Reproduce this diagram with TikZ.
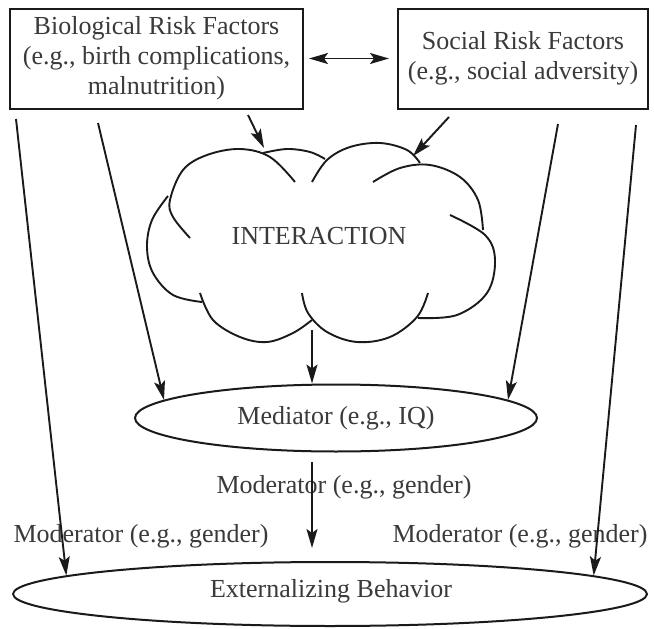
\documentclass[tikz,border=0pt]{standalone}
\usepackage{fontspec}
\setmainfont{Liberation Serif}
\usetikzlibrary{shapes.geometric,arrows.meta}
\definecolor{txt}{HTML}{3A3A3A}
\definecolor{ln}{HTML}{1A1A1A}
\begin{document}
\begin{tikzpicture}[x=1pt,y=-1pt,
  lbl/.style={text=txt, font=\fontsize{26}{30}\selectfont, inner sep=0pt, align=center},
  boxnode/.style={lbl, draw=ln, line width=2pt, rectangle},
  ellnode/.style={lbl, draw=ln, line width=2pt, ellipse},
  arr/.style={draw=ln, line width=1.9pt, -{Stealth[length=19pt,width=11pt,inset=4pt]}},
  dbl/.style={draw=ln, line width=1.9pt, {Stealth[length=19pt,width=11pt,inset=4pt]}-{Stealth[length=19pt,width=11pt,inset=4pt]}},
  cl/.style={draw=ln, line width=1.9pt}]
\useasboundingbox (0,0) rectangle (654,629);
\fill[white] (0,0) rectangle (654,629);

% boxes
\node[boxnode, minimum width=293pt, minimum height=100pt] (bio) at (156.5,58.5)
  {Biological Risk Factors\\(e.g., birth complications,\\malnutrition)};
\node[boxnode, minimum width=250pt, minimum height=100pt] (soc) at (523,58.5)
  {Social Risk Factors\\(e.g., social adversity)};

% ellipses
\node[ellnode, minimum width=402pt, minimum height=67pt] (med) at (336,418) {Mediator (e.g., IQ)};
\node[ellnode, minimum width=634pt, minimum height=64pt] (ext) at (330,594) {};
\node[lbl] (extt) at (331,591) {Externalizing Behavior};

% cloud
\draw[cl] plot[smooth, tension=0.6] coordinates {(190,238) (173,217) (170,200) (183,170) (207,155) (240,149) (270,157) (295,182)};
\draw[cl] plot[smooth, tension=0.6] coordinates {(168,196) (152,220) (147,247) (153,273) (173,295) (202,302)};
\draw[cl] plot[smooth, tension=0.6] coordinates {(200,293) (213,320) (240,337) (267,342) (293,333) (312,320)};
\draw[cl] plot[smooth, tension=0.6] coordinates {(302,293) (308,313) (327,332) (357,342) (390,337) (417,317) (428,293)};
\draw[cl] plot[smooth, tension=0.6] coordinates {(418,318) (457,315) (487,293) (495,260) (485,235) (450,215)};
\draw[cl] plot[smooth, tension=0.6] coordinates {(373,182) (400,168) (430,165) (460,177) (478,200) (483,230)};
\draw[cl] plot[smooth, tension=0.6] coordinates {(312,182) (327,160) (350,147) (380,143) (407,150) (420,163)};
\draw[cl] plot[smooth, tension=0.6] coordinates {(263,153) (287,149) (310,152) (325,159)};
\node[lbl] (cloud) at (319,236) {INTERACTION};

% labels
\node[lbl] (modc) at (344,487) {Moderator (e.g., gender)};
\node[lbl] (modl) at (141,536) {Moderator (e.g., gender)};
\node[lbl] (modr) at (520,536) {Moderator (e.g., gender)};

% free ends
\coordinate (b1) at (16,119);
\coordinate (b2) at (98,123);
\coordinate (s1) at (558,124);
\coordinate (s2) at (636,125);
\coordinate (bA) at (248,115);
\coordinate (cA) at (264,148);
\coordinate (sA) at (449,117);
\coordinate (cB) at (413,156);
\coordinate (cb) at (312,330);
\coordinate (mb) at (312,462);
\coordinate (ee) at (312,548);

% connectors
\draw[dbl, shorten <=5pt, shorten >=8pt] (bio.east) -- (soc.west);
\draw[arr] (bA) -- (cA);
\draw[arr] (sA) -- (cB);
\draw[arr] (cb) -- (cb |- med.north);
\draw[arr] (b2) -- (med.174.5);
\draw[arr] (s1) -- (med.6.25);
\draw[arr] (b1) -- (ext.176.1);
\draw[arr] (s2) -- (ext.4.16);
\draw[arr] (mb) -- (ee);
\end{tikzpicture}
\end{document}
